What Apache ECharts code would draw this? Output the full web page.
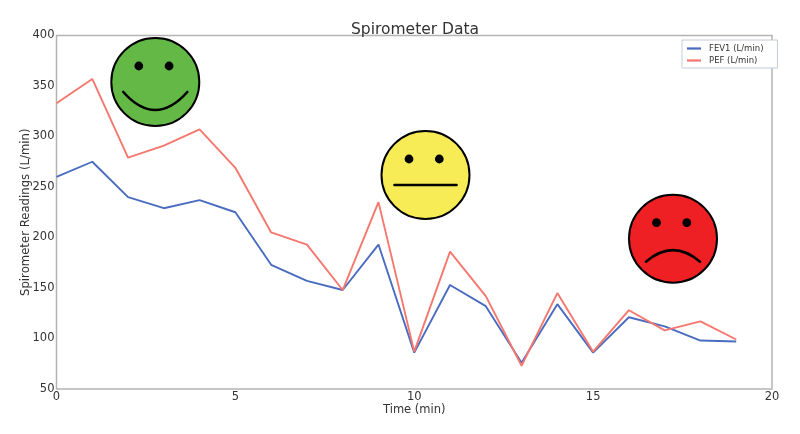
<!DOCTYPE html>
<html>
<head>
<meta charset="utf-8">
<script src="https://cdn.jsdelivr.net/npm/echarts@6/dist/echarts.min.js"></script>
<style>html,body{margin:0;padding:0;background:#fff}#c{width:800px;height:434px}</style>
</head>
<body>
<div id="c"></div>
<script>
const minutes = [0,1,2,3,4,5,6,7,8,9,10,11,12,13,14,15,16,17,18,19];
const fev1 = [260,275,240,229,237,225,173,157,148,193,86,153,132,76,134,86,121,112,98,97];
const pef = [333,357,279,291,307,269,205,193,148,235,87,186,142,73,145,87,128,108,117,99];
const xTicks = {min:0,max:20,interval:5};
const yTicks = {min:50,max:400,interval:50};
const font = '"DejaVu Sans"';
const textCol = '#333333';
const frame = '#b4b4b4';
const legendLine = 'path://M0 42H100V58H0Z';

function face(cx, cy, fill, mouth) {
  const stroke = {stroke:'#000', lineWidth:2.6, fill:'none', lineCap:'round'};
  return {
    type:'group', x:cx, y:cy, z:50,
    children:[
      {type:'circle', shape:{cx:0,cy:0,r:44}, style:{fill:fill, stroke:'#000', lineWidth:2}},
      {type:'circle', shape:{cx:-16.5,cy:-16,r:4.4}, style:{fill:'#000'}},
      {type:'circle', shape:{cx:13.8,cy:-16,r:4.4}, style:{fill:'#000'}},
      {type:mouth.type, shape:mouth.shape, style:stroke}
    ]
  };
}
const chart = echarts.init(document.getElementById('c'), null, {renderer:'canvas'});
chart.setOption({
  animation:false,
  backgroundColor:'#fff',
  title:{text:'Spirometer Data', left:346, top:17,
    textStyle:{fontFamily:font,fontSize:15.5,fontWeight:'normal',color:textCol}},
  grid:{left:56.5,right:28,top:35.5,bottom:45,show:true,borderColor:frame,borderWidth:1.5,backgroundColor:'#fff'},
  legend:{
    orient:'vertical', left:682, top:40, padding:[4,14,3,5], itemGap:3, itemWidth:14, itemHeight:9,
    borderColor:'#c4ccd4', borderWidth:1, backgroundColor:'#fff',
    textStyle:{fontFamily:font,fontSize:8.5,color:textCol,padding:[0,0,0,3]},
    data:[{name:'FEV1 (L/min)',icon:legendLine},{name:'PEF (L/min)',icon:legendLine}],
    selectedMode:false, itemStyle:{borderWidth:0}
  },
  xAxis:{type:'value',min:xTicks.min,max:xTicks.max,interval:xTicks.interval,
    name:'Time (min)',nameLocation:'middle',nameGap:15,nameMoveOverlap:false,
    nameTextStyle:{fontFamily:font,fontSize:11.5,color:textCol},
    axisLine:{show:false},axisTick:{show:false},splitLine:{show:false},
    axisLabel:{margin:2,fontFamily:font,fontSize:11.5,color:textCol,showMinLabel:true,showMaxLabel:true,hideOverlap:false}},
  yAxis:{type:'value',min:yTicks.min,max:yTicks.max,interval:yTicks.interval,
    name:'Spirometer Readings (L/min)',nameLocation:'middle',nameGap:25,nameMoveOverlap:false,
    nameTextStyle:{fontFamily:font,fontSize:11.7,color:textCol},
    axisLine:{show:false},axisTick:{show:false},splitLine:{show:false},
    axisLabel:{margin:2,padding:[4,0,0,0],fontFamily:font,fontSize:11.5,color:textCol,showMinLabel:true,showMaxLabel:true,hideOverlap:false}},
  series:[
    {name:'FEV1 (L/min)',type:'line',symbol:'none',z:3,data:minutes.map((m,i)=>[m,fev1[i]]),
      lineStyle:{color:'#4a6cc0',width:1.9},itemStyle:{color:'#4a6cc0'}},
    {name:'PEF (L/min)',type:'line',symbol:'none',z:4,data:minutes.map((m,i)=>[m,pef[i]]),
      lineStyle:{color:'#f5776e',width:1.9},itemStyle:{color:'#f5776e'}}
  ],
  graphic:[
    face(155.3,82,'#64b946',{type:'bezierCurve',shape:{x1:-32,y1:10,x2:32,y2:10,cpx1:0,cpy1:46}}),
    face(425.5,175,'#f7ec55',{type:'line',shape:{x1:-31,y1:10,x2:31,y2:10}}),
    face(673,238.7,'#ee2024',{type:'bezierCurve',shape:{x1:-27,y1:23,x2:27,y2:23,cpx1:0,cpy1:0}})
  ]
});
</script>
</body>
</html>
